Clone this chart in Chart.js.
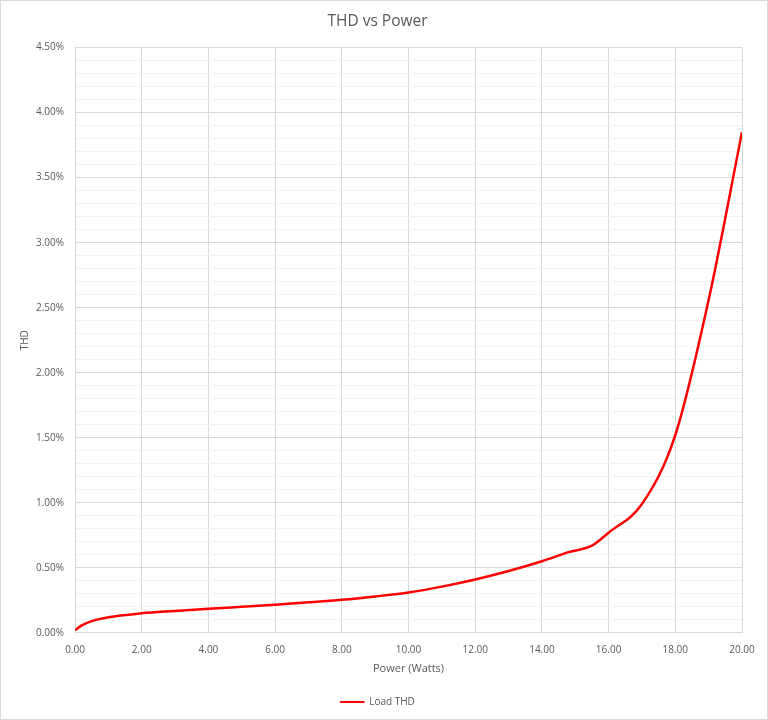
<!DOCTYPE html>
<html>
<head>
<meta charset="utf-8">
<script src="https://cdn.jsdelivr.net/npm/chart.js@4"></script>
<style>
  html, body { margin: 0; padding: 0; background: #fff; }
  #wrap { width: 766px; height: 718px; border: 1px solid #d9d9d9; }
</style>
</head>
<body>
<div id="wrap"><canvas id="thdChart" width="766" height="718"></canvas></div>
<script>
// THD vs Power
const powerWatts = [0, 0.2, 0.5, 1, 2, 3, 4, 5, 6, 7, 8, 9, 10, 11, 12, 13, 14, 14.8, 15.5, 16, 17, 18, 19, 20];
const loadThd = [0.02, 0.057, 0.09, 0.12, 0.15, 0.168, 0.185, 0.2, 0.216, 0.234, 0.254, 0.28, 0.31, 0.355, 0.41, 0.475, 0.55, 0.62, 0.67, 0.77, 0.99, 1.52, 2.56, 3.85];

const fontFamily = '"Open Sans", sans-serif';
const textColor = '#595959';

const isMajor = (v) => Math.round(v * 10) % 5 === 0;

const thdChart = document.getElementById('thdChart');

new Chart(thdChart, {
    type: 'scatter',
    data: {
        datasets: [{
            label: 'Load THD',
            data: powerWatts.map((p, i) => ({ x: p, y: loadThd[i] })),
            showLine: true,
            borderColor: '#ff0000',
            backgroundColor: '#ff0000',
            borderWidth: 2.5,
            pointRadius: 0,
            cubicInterpolationMode: 'monotone',
        }]
    },
    options: {
        responsive: false,
        animation: false,
        layout: {
            padding: { top: 4, right: 25, bottom: 2, left: 12 }
        },
        plugins: {
            title: {
                display: true,
                text: 'THD vs Power',
                color: textColor,
                font: { family: fontFamily, size: 15.5, weight: 'normal' },
                padding: { top: 7, bottom: 17 }
            },
            legend: {
                position: 'bottom',
                labels: {
                    color: textColor,
                    font: { family: fontFamily, size: 10 },
                    boxWidth: 24,
                    boxHeight: 1,
                    padding: 6,
                    // thinner legend line, like the original
                    generateLabels: (chart) => Chart.defaults.plugins.legend.labels.generateLabels(chart)
                        .map(l => ({ ...l, lineWidth: 1 }))
                }
            },
            tooltip: { enabled: false }
        },
        scales: {
            x: {
                type: 'linear',
                min: 0,
                max: 20,
                border: { color: '#d9d9d9' },
                grid: { color: '#d9d9d9', drawTicks: false },
                ticks: {
                    stepSize: 2,
                    color: textColor,
                    font: { family: fontFamily, size: 10 },
                    padding: 11,
                    callback: (v) => v.toFixed(2)
                },
                title: {
                    display: true,
                    text: 'Power (Watts)',
                    color: textColor,
                    font: { family: fontFamily, size: 11 },
                    padding: { top: -5, bottom: 16 }
                }
            },
            y: {
                min: 0,
                max: 4.5,
                border: { color: '#d9d9d9' },
                grid: {
                    drawTicks: false,
                    color: (ctx) => isMajor(ctx.tick.value) ? '#d9d9d9' : '#f2f2f2'
                },
                ticks: {
                    stepSize: 0.1,
                    autoSkip: false,
                    color: textColor,
                    font: { family: fontFamily, size: 10 },
                    padding: 11,
                    callback: (v) => isMajor(v) ? v.toFixed(2) + '%' : ''
                },
                title: {
                    display: true,
                    text: 'THD',
                    color: textColor,
                    font: { family: fontFamily, size: 10 },
                    padding: { top: 6, bottom: -6 }
                }
            }
        }
    }
});
</script>
</body>
</html>
